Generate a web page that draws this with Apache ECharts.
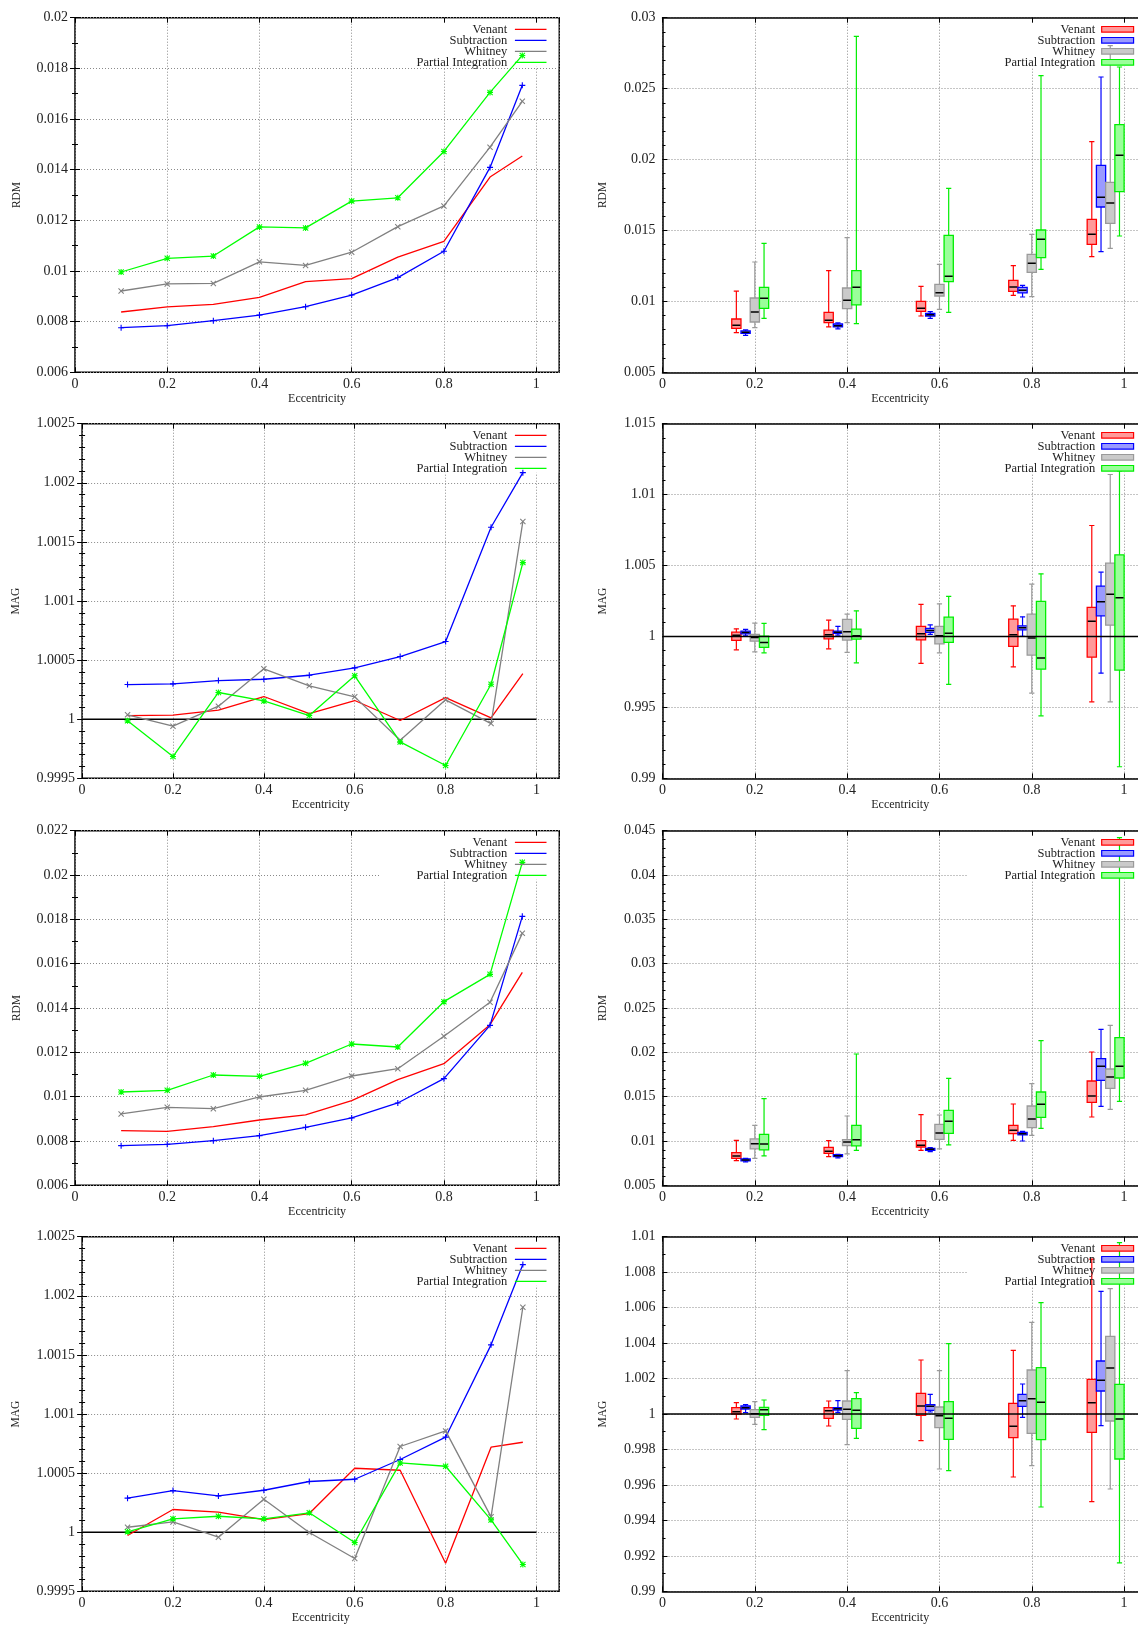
<!DOCTYPE html>
<html><head><meta charset="utf-8">
<script src="https://cdn.jsdelivr.net/npm/echarts@6/dist/echarts.min.js"></script>
<style>html,body{margin:0;padding:0;background:#fff}#c{width:1138px;height:1626px}</style>
</head><body><div id="c"></div>
<script>
// ---------------- DATA ----------------
const methods = ['Venant', 'Subtraction', 'Whitney', 'Partial Integration'];
const eccentricity = [0.1, 0.2, 0.3, 0.4, 0.5, 0.6, 0.7, 0.8, 0.9, 0.97];
const xTicks = [0, 0.2, 0.4, 0.6, 0.8, 1];

// Row 1 left: RDM (set A)
const rdmA_venant      = [0.00838, 0.00858, 0.00868, 0.00896, 0.00958, 0.0097, 0.01055, 0.01117, 0.01371, 0.01454];
const rdmA_subtraction = [0.00776, 0.00784, 0.00804, 0.00826, 0.00859, 0.00905, 0.00974, 0.01078, 0.01409, 0.01733];
const rdmA_whitney     = [0.00921, 0.00949, 0.00951, 0.01036, 0.01022, 0.01074, 0.01175, 0.01257, 0.01489, 0.0167];
const rdmA_partial     = [0.00996, 0.0105, 0.01059, 0.01174, 0.0117, 0.01276, 0.01289, 0.01472, 0.01705, 0.01851];

// Row 2 left: MAG (set A)
const magA_venant      = [1.000031, 1.000034, 1.000076, 1.000192, 1.000048, 1.000158, 0.999989, 1.000183, 1.000011, 1.000386];
const magA_subtraction = [1.000293, 1.000299, 1.000327, 1.000338, 1.000372, 1.000434, 1.00053, 1.000657, 1.001624, 1.002086];
const magA_whitney     = [1.000037, 0.999941, 1.00011, 1.000426, 1.000282, 1.000189, 0.999822, 1.000164, 0.999963, 1.001672];
const magA_partial     = [0.999986, 0.999684, 1.000226, 1.000155, 1.000031, 1.000367, 0.999808, 0.999608, 1.000296, 1.001325];

// Row 3 left: RDM (set B)
const rdmB_venant      = [0.008466, 0.008436, 0.008646, 0.008947, 0.009173, 0.009819, 0.010767, 0.011489, 0.013248, 0.015609];
const rdmB_subtraction = [0.007789, 0.00785, 0.008015, 0.00824, 0.008616, 0.009038, 0.009714, 0.010812, 0.013218, 0.018135];
const rdmB_whitney     = [0.009218, 0.009519, 0.009459, 0.009985, 0.010286, 0.010932, 0.011263, 0.012722, 0.014256, 0.017368];
const rdmB_partial     = [0.01021, 0.010286, 0.010977, 0.010917, 0.011504, 0.012376, 0.01224, 0.014286, 0.015519, 0.020571];

// Row 4 left: MAG (set B)
const magB_venant      = [0.999972, 1.000192, 1.000169, 1.000107, 1.000158, 1.000541, 1.000524, 0.999738, 1.000719, 1.000761];
const magB_subtraction = [1.000288, 1.000352, 1.000307, 1.000355, 1.000429, 1.000448, 1.000615, 1.000804, 1.001585, 1.002264];
const magB_whitney     = [1.000042, 1.000087, 0.999958, 1.000279, 0.999997, 0.999777, 1.000725, 1.000857, 1.00013, 1.001903];
const magB_partial     = [1.000003, 1.000113, 1.000135, 1.000113, 1.000164, 0.999913, 1.000586, 1.000558, 1.000104, 0.999727];

// Boxplot x positions per method
const boxX_venant      = [0.16, 0.36, 0.56, 0.76, 0.93];
const boxX_subtraction = [0.18, 0.38, 0.58, 0.78, 0.95];
const boxX_whitney     = [0.20, 0.40, 0.60, 0.80, 0.97];
const boxX_partial     = [0.22, 0.42, 0.62, 0.82, 0.99];
const boxWidth = 0.02;

// Boxes: [low whisker, Q1, median, Q3, high whisker]
const boxRdmA_venant = [
  [0.007797, 0.008102, 0.008313, 0.008759, 0.01073],
  [0.008196, 0.008501, 0.008666, 0.009229, 0.012166],
  [0.008971, 0.0093, 0.009511, 0.010005, 0.011062],
  [0.010428, 0.01071, 0.011015, 0.011485, 0.012519],
  [0.013153, 0.014023, 0.014728, 0.015785, 0.02126]];
const boxRdmA_subtraction = [
  [0.007609, 0.00775, 0.00782, 0.007914, 0.007984],
  [0.008055, 0.008196, 0.00829, 0.008407, 0.008478],
  [0.008807, 0.008971, 0.009066, 0.00916, 0.009277],
  [0.01031, 0.010593, 0.010781, 0.010992, 0.011133],
  [0.013506, 0.016654, 0.017336, 0.019591, 0.025818]];
const boxRdmA_whitney = [
  [0.008149, 0.008548, 0.009253, 0.01024, 0.012777],
  [0.008501, 0.009488, 0.010076, 0.010945, 0.014493],
  [0.009441, 0.010381, 0.010616, 0.011203, 0.012613],
  [0.010334, 0.012049, 0.012684, 0.013318, 0.014728],
  [0.013741, 0.015503, 0.016936, 0.018393, 0.028026]];
const boxRdmA_partial = [
  [0.008807, 0.009511, 0.010216, 0.010992, 0.014093],
  [0.008431, 0.009747, 0.010992, 0.012166, 0.028684],
  [0.009229, 0.011391, 0.011767, 0.014657, 0.01797],
  [0.012261, 0.013083, 0.014375, 0.015033, 0.025912],
  [0.01461, 0.017735, 0.020296, 0.022458, 0.026523]];

const boxMagA_venant = [
  [0.99906, 0.999718, 1.000094, 1.000305, 1.00054],
  [0.999131, 0.999836, 1.000117, 1.000446, 1.001151],
  [0.998097, 0.999765, 1.000188, 1.000705, 1.002256],
  [0.997862, 0.999295, 1.000117, 1.001222, 1.002162],
  [0.995395, 0.998543, 1.001081, 1.002044, 1.007824]];
const boxMagA_subtraction = [
  [1.000047, 1.000188, 1.000282, 1.000376, 1.000493],
  [1.000094, 1.000211, 1.000305, 1.000376, 1.000705],
  [1.000141, 1.000282, 1.000423, 1.000564, 1.000822],
  [1.0, 1.00047, 1.000611, 1.000752, 1.001386],
  [0.997415, 1.001457, 1.002444, 1.003548, 1.004535]];
const boxMagA_whitney = [
  [0.998919, 0.999671, 0.99993, 1.000141, 1.00094],
  [0.998872, 0.999742, 1.000329, 1.001198, 1.001574],
  [0.998849, 0.999483, 1.000047, 1.000705, 1.002303],
  [0.996006, 0.998684, 0.999883, 1.001574, 1.003689],
  [0.995395, 1.000799, 1.002984, 1.005169, 1.011419]];
const boxMagA_partial = [
  [0.998849, 0.999225, 0.999577, 1.000023, 1.000916],
  [0.998144, 0.999812, 1.000047, 1.000517, 1.001809],
  [0.996617, 0.999577, 1.000235, 1.001363, 1.00282],
  [0.994408, 0.997697, 0.998473, 1.002467, 1.004417],
  [0.990813, 0.997627, 1.002726, 1.005757, 1.011678]];

const boxRdmB_venant = [
  [0.007782, 0.008045, 0.008308, 0.008684, 0.010075],
  [0.008233, 0.008609, 0.008835, 0.009286, 0.010038],
  [0.008947, 0.009323, 0.009511, 0.010038, 0.01297],
  [0.010075, 0.010827, 0.011203, 0.011767, 0.014173],
  [0.012707, 0.014361, 0.015075, 0.016767, 0.020038]];
const boxRdmB_subtraction = [
  [0.007632, 0.007744, 0.007857, 0.00797, 0.008045],
  [0.008083, 0.008233, 0.008346, 0.008459, 0.008496],
  [0.008797, 0.008947, 0.00906, 0.009173, 0.009248],
  [0.01, 0.010677, 0.010827, 0.010977, 0.01109],
  [0.01391, 0.016842, 0.018421, 0.019286, 0.022594]];
const boxRdmB_whitney = [
  [0.008045, 0.009098, 0.0097, 0.010226, 0.011767],
  [0.008534, 0.009474, 0.009887, 0.01015, 0.012819],
  [0.009098, 0.010188, 0.010902, 0.01188, 0.012932],
  [0.010639, 0.011504, 0.012481, 0.013947, 0.016466],
  [0.013571, 0.01594, 0.017218, 0.01812, 0.023045]];
const boxRdmB_partial = [
  [0.008308, 0.008985, 0.009662, 0.010752, 0.014774],
  [0.008947, 0.009436, 0.01015, 0.011767, 0.019812],
  [0.009549, 0.010865, 0.012218, 0.013459, 0.017068],
  [0.011429, 0.01267, 0.014135, 0.015526, 0.021316],
  [0.014474, 0.017105, 0.018421, 0.021654, 0.044211]];

const boxMagB_venant = [
  [0.999718, 1.0, 1.000132, 1.000357, 1.000639],
  [0.999323, 0.999756, 1.000188, 1.000357, 1.000733],
  [0.998496, 0.999925, 1.000451, 1.001165, 1.003045],
  [0.996447, 0.998665, 0.999305, 1.000602, 1.00359],
  [0.995056, 0.998966, 1.000639, 1.001955, 1.00874]];
const boxMagB_subtraction = [
  [1.000075, 1.000282, 1.000357, 1.000451, 1.000526],
  [1.000094, 1.000226, 1.000301, 1.000357, 1.000752],
  [1.000113, 1.000207, 1.000432, 1.000526, 1.001109],
  [0.999812, 1.000432, 1.000752, 1.001109, 1.001692],
  [0.999342, 1.001297, 1.001898, 1.002989, 1.006917]];
const boxMagB_whitney = [
  [0.999417, 0.999812, 1.000019, 1.000244, 1.000695],
  [0.998271, 0.999699, 1.000263, 1.000733, 1.002444],
  [0.996898, 0.999229, 0.999906, 1.000395, 1.002444],
  [0.997086, 0.99891, 1.000865, 1.002481, 1.005169],
  [0.995771, 0.999605, 1.002594, 1.00438, 1.007068]];
const boxMagB_partial = [
  [0.999117, 0.999925, 1.000244, 1.000376, 1.000789],
  [0.998628, 0.999192, 1.000207, 1.000865, 1.001203],
  [0.996805, 0.998571, 0.999756, 1.000695, 1.003966],
  [0.994756, 0.998553, 1.000658, 1.002613, 1.006278],
  [0.991598, 0.997462, 0.999718, 1.001673, 1.009662]];

// Reference line MAG = 1
const unityLineLeft  = [[0, 1], [1, 1]];
const unityLineRight = [[0, 1], [1.05, 1]];

// Y axis ranges: [min, max, interval, minor splits]
const yRdmA_line = [0.006, 0.02, 0.002, 2];
const yMag_line  = [0.9995, 1.0025, 0.0005, 5];
const yRdmB_line = [0.006, 0.022, 0.002, 2];
const yRdmA_box  = [0.005, 0.03, 0.005, 5];
const yMagA_box  = [0.99, 1.015, 0.005, 5];
const yRdmB_box  = [0.005, 0.045, 0.005, 5];
const yMagB_box  = [0.99, 1.01, 0.002, 2];
// x ranges: left plots show 0..1.05; right plots are cut at the page edge
const xRangeLeft  = [0, 1.05];
const xRangeRight = [0, 1.03];

// ---------------- LAYOUT / STYLE ----------------
const FONT = 'Liberation Serif';
const colors  = ['#ff0000', '#0000ff', '#808080', '#00ff00'];
const fills   = ['#ff9a9a', '#9a9aff', '#cacaca', '#9aff9a'];
const strokes = ['#ff0000', '#0000ff', '#9a9a9a', '#00ee00'];
const SYM = {
  plus: 'path://M0,2.45H6V3.55H0Z M2.45,0H3.55V6H2.45Z',
  cross: 'path://M0.75,0L3,2.25L5.25,0L6,0.75L3.75,3L6,5.25L5.25,6L3,3.75L0.75,6L0,5.25L2.25,3L0,0.75Z',
  star: 'path://M0,2.45H6V3.55H0Z M2.45,0H3.55V6H2.45Z M0.75,0L3,2.25L5.25,0L6,0.75L3.75,3L6,5.25L5.25,6L3,3.75L0.75,6L0,5.25L2.25,3L0,0.75Z'
};
const symbols = ['none', SYM.plus, SYM.cross, SYM.star];

const ROW_TOP = [17.7, 423.7, 830.7, 1236.7];
const H = 354.6;
const PX_PER_UNIT_RIGHT = 461.6;

const panels = [
  {row: 0, left: 75.0, width: 484.2, kind: 'line', name: 'RDM', gap: 52, y: yRdmA_line, data: [rdmA_venant, rdmA_subtraction, rdmA_whitney, rdmA_partial]},
  {row: 0, left: 662.5, kind: 'box', name: 'RDM', gap: 54, y: yRdmA_box, data: [boxRdmA_venant, boxRdmA_subtraction, boxRdmA_whitney, boxRdmA_partial]},
  {row: 1, left: 82.1, width: 477.1, kind: 'line', name: 'MAG', gap: 60, y: yMag_line, unity: unityLineLeft, data: [magA_venant, magA_subtraction, magA_whitney, magA_partial]},
  {row: 1, left: 662.5, kind: 'box', name: 'MAG', gap: 54, y: yMagA_box, unity: unityLineRight, data: [boxMagA_venant, boxMagA_subtraction, boxMagA_whitney, boxMagA_partial]},
  {row: 2, left: 75.0, width: 484.2, kind: 'line', name: 'RDM', gap: 52, y: yRdmB_line, data: [rdmB_venant, rdmB_subtraction, rdmB_whitney, rdmB_partial]},
  {row: 2, left: 662.5, kind: 'box', name: 'RDM', gap: 54, y: yRdmB_box, data: [boxRdmB_venant, boxRdmB_subtraction, boxRdmB_whitney, boxRdmB_partial]},
  {row: 3, left: 82.1, width: 477.1, kind: 'line', name: 'MAG', gap: 60, y: yMag_line, unity: unityLineLeft, data: [magB_venant, magB_subtraction, magB_whitney, magB_partial]},
  {row: 3, left: 662.5, kind: 'box', name: 'MAG', gap: 54, y: yMagB_box, unity: unityLineRight, data: [boxMagB_venant, boxMagB_subtraction, boxMagB_whitney, boxMagB_partial]}
];
const boxX = [boxX_venant, boxX_subtraction, boxX_whitney, boxX_partial];

const chart = echarts.init(document.getElementById('c'), null, {renderer: 'canvas'});
const option = {animation: false, backgroundColor: '#fff', grid: [], xAxis: [], yAxis: [], series: [], graphic: []};

const gridLine = {show: true, lineStyle: {color: '#8a8a8a', width: 1, type: [1, 2]}};
const tickStyle = {color: '#000', width: 1};
const frameLine = {show: true, lineStyle: {color: '#000', width: 1.5}};

function makeBoxRenderer(k) {
  return function (params, api) {
    const x = api.value(0);
    const pLo = api.coord([x, api.value(1)]);
    const pQ1 = api.coord([x, api.value(2)]);
    const pMed = api.coord([x, api.value(3)]);
    const pQ3 = api.coord([x, api.value(4)]);
    const pHi = api.coord([x, api.value(5)]);
    const w = api.size([boxWidth, 0])[0];
    const cx = pLo[0];
    const cap = 2.6;
    const st = {stroke: strokes[k], lineWidth: 1.2};
    return {type: 'group', children: [
      {type: 'line', shape: {x1: cx, y1: pHi[1], x2: cx, y2: pLo[1]}, style: st},
      {type: 'line', shape: {x1: cx - cap, y1: pHi[1], x2: cx + cap, y2: pHi[1]}, style: st},
      {type: 'line', shape: {x1: cx - cap, y1: pLo[1], x2: cx + cap, y2: pLo[1]}, style: st},
      {type: 'rect', shape: {x: cx - w / 2, y: pQ3[1], width: w, height: pQ1[1] - pQ3[1]}, style: {fill: fills[k], stroke: strokes[k], lineWidth: 1.3}},
      {type: 'line', shape: {x1: cx - w / 2 + 0.6, y1: pMed[1], x2: cx + w / 2 - 0.6, y2: pMed[1]}, style: {stroke: '#000', lineWidth: 1.5}}
    ]};
  };
}

panels.forEach((P, p) => {
  const top = ROW_TOP[P.row];
  const isBox = P.kind === 'box';
  const xr = isBox ? xRangeRight : xRangeLeft;
  const width = isBox ? PX_PER_UNIT_RIGHT * xr[1] : P.width;
  // conceptual right edge (x = 1.05) used for the key placement
  const right = isBox ? P.left + PX_PER_UNIT_RIGHT * 1.05 : P.left + P.width;

  option.grid.push({left: P.left, top: top, width: width, height: H, show: !isBox,
    borderColor: '#000', borderWidth: 1.5, backgroundColor: 'transparent', containLabel: false});

  const xBase = {type: 'value', gridIndex: p, min: xr[0], max: xr[1], interval: 0.2};
  option.xAxis.push(Object.assign({}, xBase, {
    position: 'bottom', z: 0,
    name: 'Eccentricity', nameLocation: 'middle', nameGap: 21,
    nameTextStyle: {fontFamily: FONT, fontSize: 12, color: '#222'},
    axisLine: isBox ? frameLine : {show: false},
    axisTick: {show: true, inside: true, length: 5, lineStyle: tickStyle},
    axisLabel: {fontFamily: FONT, fontSize: 14, color: '#222', margin: 5, showMaxLabel: false,
      formatter: v => (xTicks.some(t => Math.abs(t - v) < 1e-9) ? String(+v.toFixed(2)) : '')},
    splitLine: gridLine
  }));
  option.xAxis.push(Object.assign({}, xBase, {
    position: 'top', z: 2,
    axisLine: isBox ? frameLine : {show: false},
    axisTick: {show: true, inside: true, length: 5, lineStyle: tickStyle},
    axisLabel: {show: false}, splitLine: {show: false}
  }));

  const yBase = {type: 'value', gridIndex: p, min: P.y[0], max: P.y[1], interval: P.y[2]};
  option.yAxis.push(Object.assign({}, yBase, {
    position: 'left', z: 0,
    name: P.name, nameLocation: 'middle', nameGap: P.gap, nameRotate: 90,
    nameTextStyle: {fontFamily: FONT, fontSize: 11.5, color: '#222'},
    axisLine: isBox ? frameLine : {show: false},
    axisTick: {show: true, inside: true, length: 5, lineStyle: tickStyle},
    minorTick: {show: true, splitNumber: P.y[3], length: 3, lineStyle: tickStyle},
    axisLabel: {fontFamily: FONT, fontSize: 14, color: '#222', margin: 7},
    splitLine: gridLine
  }));
  option.yAxis.push(Object.assign({}, yBase, {
    position: 'right', z: 2, show: !isBox,
    axisLine: {show: false},
    axisTick: {show: true, inside: true, length: 5, lineStyle: tickStyle},
    minorTick: {show: true, splitNumber: P.y[3], length: 3, lineStyle: tickStyle},
    axisLabel: {show: false}, splitLine: {show: false}
  }));

  const xi = 2 * p, yi = 2 * p;
  if (P.unity) {
    option.series.push({type: 'line', xAxisIndex: xi, yAxisIndex: yi, data: P.unity, symbol: 'none',
      lineStyle: {color: '#000', width: 1.5}, z: 3, silent: true, clip: true});
  }
  methods.forEach((m, k) => {
    if (!isBox) {
      option.series.push({type: 'line', name: m, xAxisIndex: xi, yAxisIndex: yi,
        data: eccentricity.map((x, i) => [x, P.data[k][i]]),
        symbol: symbols[k], symbolSize: 6, showSymbol: k > 0, showAllSymbol: true,
        lineStyle: {color: colors[k], width: 1.3}, itemStyle: {color: colors[k], borderWidth: 0},
        z: 3, silent: true, clip: true, emphasis: {disabled: true}});
    } else {
      option.series.push({type: 'custom', name: m, xAxisIndex: xi, yAxisIndex: yi,
        data: boxX[k].map((x, i) => [x].concat(P.data[k][i])),
        encode: {x: 0, y: [1, 2, 3, 4, 5]},
        renderItem: makeBoxRenderer(k), z: 3, silent: true, clip: true});
    }
  });

  // key area (erases grid lines, like gnuplot)
  option.graphic.push({type: 'rect', z: 1, silent: true,
    shape: {x: right - 180, y: top + 1, width: 179, height: 48}, style: {fill: '#fff'}});
  methods.forEach((m, k) => {
    const yy = top + 11.6 + 11 * k;
    option.graphic.push({type: 'text', z: 5, silent: true,
      style: {text: m, x: right - 52, y: yy, align: 'right', verticalAlign: 'middle',
        font: '12.5px "Liberation Serif"', fill: '#222'}});
    if (!isBox) {
      option.graphic.push({type: 'line', z: 5, silent: true,
        shape: {x1: right - 44.3, y1: yy, x2: right - 12.7, y2: yy}, style: {stroke: colors[k], lineWidth: 1.3}});
    } else {
      option.graphic.push({type: 'rect', z: 5, silent: true,
        shape: {x: right - 45.5, y: yy - 2.8, width: 31.9, height: 5.6},
        style: {fill: fills[k], stroke: strokes[k], lineWidth: 1.2}});
    }
  });
});

chart.setOption(option);
</script></body></html>
